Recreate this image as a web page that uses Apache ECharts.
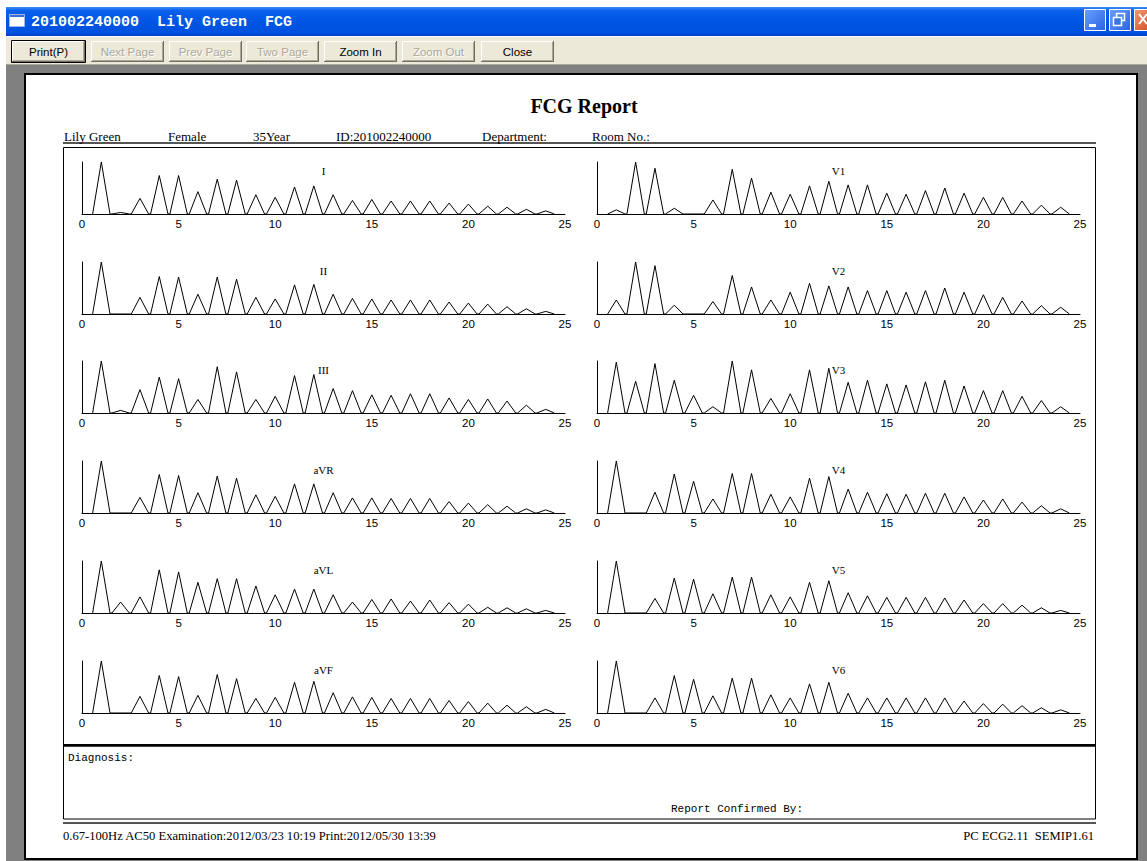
<!DOCTYPE html>
<html>
<head>
<meta charset="utf-8">
<script src="https://cdn.jsdelivr.net/npm/echarts@6/dist/echarts.min.js"></script>
<style>
html,body{margin:0;padding:0;background:#fff;}
#c{width:1147px;height:861px;}
</style>
</head>
<body>
<div id="c"></div>
<script>
// ---- data: peak heights at x = 1..24 for each lead ----
const peakX = [1,2,3,4,5,6,7,8,9,10,11,12,13,14,15,16,17,18,19,20,21,22,23,24];
const leadI   = [1.0,0.03,0.30,0.74,0.74,0.43,0.67,0.65,0.37,0.32,0.52,0.54,0.37,0.26,0.28,0.25,0.25,0.25,0.21,0.19,0.15,0.13,0.09,0.06];
const leadII  = [1.0,0,0.32,0.72,0.71,0.38,0.71,0.67,0.32,0.29,0.56,0.57,0.38,0.30,0.29,0.27,0.27,0.27,0.23,0.21,0.19,0.14,0.10,0.05];
const leadIII = [1.0,0.05,0.45,0.69,0.66,0.26,0.89,0.79,0.26,0.32,0.72,0.74,0.47,0.43,0.35,0.34,0.37,0.37,0.29,0.26,0.27,0.23,0.15,0.07];
const leadAVR = [1.0,0,0.30,0.74,0.72,0.39,0.71,0.67,0.35,0.32,0.56,0.56,0.39,0.29,0.29,0.28,0.28,0.28,0.22,0.19,0.16,0.13,0.08,0.06];
const leadAVL = [1.0,0.21,0.31,0.83,0.79,0.59,0.66,0.66,0.52,0.35,0.46,0.46,0.35,0.21,0.26,0.27,0.23,0.25,0.20,0.17,0.11,0.10,0.08,0.05];
const leadAVF = [1.0,0,0.32,0.72,0.70,0.34,0.74,0.66,0.28,0.30,0.59,0.61,0.39,0.31,0.30,0.28,0.28,0.28,0.24,0.22,0.19,0.15,0.12,0.07];
const leadV1  = [0.08,1.0,0.88,0.11,0,0.27,0.86,0.69,0.42,0.38,0.54,0.63,0.56,0.56,0.40,0.38,0.45,0.50,0.40,0.32,0.32,0.25,0.17,0.13];
const leadV2  = [0.27,1.0,0.93,0.17,0,0.24,0.74,0.52,0.27,0.42,0.59,0.54,0.52,0.45,0.45,0.42,0.45,0.50,0.42,0.37,0.32,0.25,0.16,0.13];
const leadV3  = [0.98,0.61,0.95,0.63,0.34,0.12,1.0,0.83,0.28,0.37,0.83,0.86,0.59,0.63,0.56,0.54,0.60,0.63,0.52,0.43,0.43,0.32,0.24,0.12];
const leadV4  = [1.0,0,0.40,0.75,0.61,0.27,0.76,0.76,0.36,0.31,0.67,0.70,0.46,0.40,0.37,0.36,0.38,0.38,0.31,0.25,0.27,0.21,0.14,0.08];
const leadV5  = [1.0,0,0.28,0.67,0.65,0.37,0.69,0.69,0.35,0.31,0.59,0.62,0.39,0.33,0.30,0.30,0.30,0.29,0.25,0.18,0.18,0.15,0.10,0.05];
const leadV6  = [1.0,0,0.29,0.72,0.65,0.33,0.67,0.67,0.35,0.29,0.56,0.59,0.38,0.29,0.29,0.29,0.29,0.29,0.23,0.18,0.17,0.14,0.10,0.06];

const leadNames = ['I','II','III','aVR','aVL','aVF','V1','V2','V3','V4','V5','V6'];
const leadData  = [leadI,leadII,leadIII,leadAVR,leadAVL,leadAVF,leadV1,leadV2,leadV3,leadV4,leadV5,leadV6];
const xMin = 0, xMax = 25, xInterval = 5;

// ---- texts ----
const winTitle = '201002240000  Lily Green  FCG';
const buttons = [
  {t:'Print(P)', en:true, def:true},
  {t:'Next Page', en:false},
  {t:'Prev Page', en:false},
  {t:'Two Page', en:false},
  {t:'Zoom In', en:true},
  {t:'Zoom Out', en:false},
  {t:'Close', en:true}
];
const reportTitle = 'FCG Report';
const infoTexts = ['Lily Green','Female','35Year','ID:201002240000','Department:','Room No.:'];
const footLeft = '0.67-100Hz AC50 Examination:2012/03/23 10:19 Print:2012/05/30 13:39';
const footRight = 'PC ECG2.11  SEMIP1.61';

// ---- layout ----
const colLeft = [82, 597];
const rowBase = [214, 314, 413, 513, 613, 713];
const plotW = 483, plotH = 52;
const halfW = 0.45;

function peakLine(vals){
  const pts = [];
  peakX.forEach((k,i)=>{
    const h = vals[i];
    if (h > 0) { pts.push([k-halfW,0],[k,h],[k+halfW,0]); }
  });
  return pts;
}

const chart = echarts.init(document.getElementById('c'), null, {renderer:'svg', width:1147, height:861});

const grids=[], xAxes=[], yAxes=[], series=[];
const G = [];
function R(x,y,w,h,style,z){G.push({type:'rect',shape:{x,y,width:w,height:h},style,z:(z===undefined?-10:z),silent:true});}
function L(x1,y1,x2,y2,stroke,lw,z){G.push({type:'line',shape:{x1,y1,x2,y2},style:{stroke,lineWidth:lw||1},z:(z===undefined?-5:z),silent:true});}
function T(t,x,y,font,fill,align){G.push({type:'text',x,y,style:{text:t,font,fill:fill||'#000',align:align||'left',verticalAlign:'middle',textAlign:align||'left',textVerticalAlign:'middle'},z:5,silent:true});}

leadNames.forEach((name,i)=>{
  const col = i<6?0:1, row = i%6;
  const top = rowBase[row]-plotH;
  grids.push({left:colLeft[col], top, width:plotW, height:plotH, containLabel:false, outerBoundsMode:'none'});
  xAxes.push({type:'value', gridIndex:i, min:xMin, max:xMax, interval:xInterval, z:10,
    axisLine:{show:true,onZero:false,lineStyle:{color:'#000',width:1}},
    axisTick:{show:false}, splitLine:{show:false},
    axisLabel:{show:true,color:'#000',fontSize:11.5,fontFamily:'Liberation Sans',margin:4,showMinLabel:true,showMaxLabel:true}});
  yAxes.push({type:'value', gridIndex:i, min:0, max:1, z:10,
    axisLine:{show:true,lineStyle:{color:'#000',width:1}},
    axisTick:{show:false}, axisLabel:{show:false}, splitLine:{show:false}});
  series.push({type:'line', xAxisIndex:i, yAxisIndex:i, data:peakLine(leadData[i]), showSymbol:false, symbol:'none',
    lineStyle:{color:'#000',width:1}, z:11, silent:true, animation:false});
  T(name, colLeft[col]+plotW/2, top+8.5, '11px "Liberation Serif"', '#000', 'center');
});

// ---- window chrome ----
R(6,65,1141,796,{fill:'#808080'},-20);
// title bar
R(6,7,1141,29,{fill:new echarts.graphic.LinearGradient(0,0,0,1,[
  {offset:0,color:'#3D8EF7'},{offset:0.12,color:'#0B61EC'},{offset:0.5,color:'#0055E5'},{offset:0.88,color:'#0052DF'},{offset:1,color:'#0040C4'}])},-20);
// icon
R(9.5,14.5,15,12,{fill:'#fff',stroke:'#9DB9EB',lineWidth:1},-9);
R(10,15,14,2,{fill:'#3A6FD8'},-8);
T(winTitle, 31, 22, 'bold 15px "Liberation Mono"', '#fff', 'left');
// window buttons
function winBtn(x,fillTop,fillBot){
  R(x+0.5,9.5,21,21,{fill:new echarts.graphic.LinearGradient(0,0,1,1,[{offset:0,color:fillTop},{offset:1,color:fillBot}]),stroke:'#fff',lineWidth:1,r:3},-9);
}
winBtn(1084,'#6AA0FF','#2A63E0');
R(1089,24,7,3,{fill:'#fff'},-8);
winBtn(1109,'#6AA0FF','#2A63E0');
R(1116.5,13.5,8,7,{fill:'none',stroke:'#fff',lineWidth:1.5},-8);
R(1113.5,17.5,8,8,{fill:'#3C74E8',stroke:'#fff',lineWidth:1.5},-7);
winBtn(1134,'#F09A70','#D2441C');
L(1139,14,1147,24,'#fff',2,-7);
L(1139,24,1147,14,'#fff',2,-7);
// toolbar
R(6,36,1141,29,{fill:'#ECE9D8'},-20);
L(6,36.5,1147,36.5,'#fff',1,-9);
L(6,64.5,1147,64.5,'#ACA899',1,-9);
const btnX = [12,91,169,246,324,402,481];
const btnW = 73;
buttons.forEach((b,i)=>{
  const x = btnX[i], y = 41, h = 21;
  R(x,y,btnW,h,{fill:'#ECE9D8'},-9);
  L(x+0.5,y+0.5,x+btnW-1,y+0.5,'#fff',1,-8);
  L(x+0.5,y+0.5,x+0.5,y+h-1,'#fff',1,-8);
  L(x,y+h-0.5,x+btnW,y+h-0.5,'#716F64',1,-8);
  L(x+btnW-0.5,y,x+btnW-0.5,y+h,'#716F64',1,-8);
  L(x+1,y+h-1.5,x+btnW-1,y+h-1.5,'#ACA899',1,-8);
  L(x+btnW-1.5,y+1,x+btnW-1.5,y+h-1,'#ACA899',1,-8);
  if (b.def) R(x-0.5,y-0.5,btnW+1,h+1,{fill:'none',stroke:'#000',lineWidth:1},-7);
  if (b.en) {
    T(b.t, x+btnW/2, y+h/2, '11.5px "Liberation Sans"', '#000', 'center');
  } else {
    T(b.t, x+btnW/2+1, y+h/2+1, '11.5px "Liberation Sans"', '#fff', 'center');
    T(b.t, x+btnW/2, y+h/2, '11.5px "Liberation Sans"', '#ACA899', 'center');
  }
});
// page
R(25,74,1112,785,{fill:'#fff',stroke:'#000',lineWidth:2},-15);
T(reportTitle, 584, 106, 'bold 20px "Liberation Serif"', '#000', 'center');
const infoX = [64,168,253,336,482,592];
infoTexts.forEach((t,i)=>T(t, infoX[i], 136, '13px "Liberation Serif"', '#000', 'left'));
R(63,142,1033,2,{fill:'#555'},-9);
R(63.5,147.5,1032,597,{fill:'none',stroke:'#000',lineWidth:1},-9);
R(63,744,1033,2.5,{fill:'#000'},-8);
R(63.5,746,1032,73,{fill:'none',stroke:'#000',lineWidth:1},-9);
T('Diagnosis:', 68, 758, '11px "Liberation Mono"', '#000', 'left');
T('Report Confirmed By:', 671, 809, '11px "Liberation Mono"', '#000', 'left');
R(63,822,1033,2,{fill:'#555'},-9);
T(footLeft, 63, 836, '12.6px "Liberation Serif"', '#000', 'left');
T(footRight, 1094, 836, '12.6px "Liberation Serif"', '#000', 'right');

chart.setOption({
  animation:false,
  backgroundColor:'#fff',
  grid:grids, xAxis:xAxes, yAxis:yAxes, series,
  graphic:{elements:G}
});
</script>
</body>
</html>
